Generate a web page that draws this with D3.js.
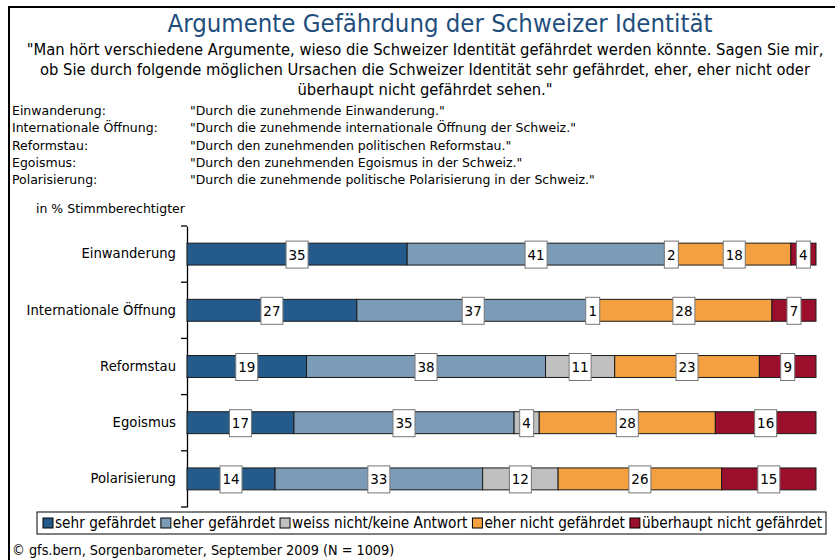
<!DOCTYPE html>
<html>
<head>
<meta charset="utf-8">
<script src="https://cdn.jsdelivr.net/npm/d3@7"></script>
<style>
  body { margin: 0; background: #fff; }
  svg text { fill: #000; }
</style>
</head>
<body>
<div id="chart"></div>
<script>
'use strict'

// data
const categories = ['Einwanderung', 'Internationale Öffnung', 'Reformstau', 'Egoismus', 'Polarisierung']
const seriesNames = ['sehr gefährdet', 'eher gefährdet', 'weiss nicht/keine Antwort', 'eher nicht gefährdet', 'überhaupt nicht gefährdet']
const sehr = [35, 27, 19, 17, 14]
const eher = [41, 37, 38, 35, 33]
const weissNicht = [2, 1, 11, 4, 12]
const eherNicht = [18, 28, 23, 28, 26]
const ueberhauptNicht = [4, 7, 9, 16, 15]
const colors = ['#245b8b', '#7b9bb6', '#c0c0c0', '#f4a040', '#9c0f2c']

const definitions = [
  ['Einwanderung:', '"Durch die zunehmende Einwanderung."'],
  ['Internationale Öffnung:', '"Durch die zunehmende internationale Öffnung der Schweiz."'],
  ['Reformstau:', '"Durch den zunehmenden politischen Reformstau."'],
  ['Egoismus:', '"Durch den zunehmenden Egoismus in der Schweiz."'],
  ['Polarisierung:', '"Durch die zunehmende politische Polarisierung in der Schweiz."']
]
const subtitleLines = [
  '"Man hört verschiedene Argumente, wieso die Schweizer Identität gefährdet werden könnte. Sagen Sie mir,',
  'ob Sie durch folgende möglichen Ursachen die Schweizer Identität sehr gefährdet, eher, eher nicht oder',
  'überhaupt nicht gefährdet sehen."'
]

const rows = categories.map((c, i) => ({
  cat: c,
  [seriesNames[0]]: sehr[i],
  [seriesNames[1]]: eher[i],
  [seriesNames[2]]: weissNicht[i],
  [seriesNames[3]]: eherNicht[i],
  [seriesNames[4]]: ueberhauptNicht[i]
}))

////////////////////////////////////
//////////// svg setup /////////////
////////////////////////////////////

const svgWidth = 835
const svgHeight = 560
const narrow = '"Liberation Sans Narrow", "Arial Narrow", "DejaVu Sans Condensed", sans-serif'
const tahoma = 'Tahoma, "DejaVu Sans", Verdana, sans-serif'

const svg = d3.select('#chart').append('svg')
  .attr('width', svgWidth)
  .attr('height', svgHeight)
  .style('display', 'block')

// frame lines (top and left)
svg.append('path')
  .attr('d', 'M9,560 V7 H835')
  .attr('fill', 'none')
  .attr('stroke', '#000')
  .attr('stroke-width', 2)

// title
svg.append('text')
  .attr('x', 440).attr('y', 32)
  .attr('text-anchor', 'middle')
  .style('font-family', narrow)
  .style('font-size', '25.5px')
  .style('fill', '#1f4e7c')
  .text('Argumente Gefährdung der Schweizer Identität')

svg.append('g').selectAll('text')
  .data(subtitleLines)
  .join('text')
  .attr('x', 425)
  .attr('y', (d, i) => 54.5 + i * 20)
  .attr('text-anchor', 'middle')
  .style('font-family', narrow)
  .style('font-size', '16.4px')
  .text(d => d)

const defs = svg.append('g').style('font-family', tahoma).style('font-size', '12.5px')
defs.selectAll('text.k')
  .data(definitions)
  .join('text')
  .attr('class', 'k')
  .attr('x', 12)
  .attr('y', (d, i) => 115 + i * 17.3)
  .text(d => d[0])
defs.selectAll('text.v')
  .data(definitions)
  .join('text')
  .attr('class', 'v')
  .attr('x', 190)
  .attr('y', (d, i) => 115 + i * 17.3)
  .text(d => d[1])

svg.append('text')
  .attr('x', 36).attr('y', 213)
  .style('font-family', tahoma)
  .style('font-size', '12.5px')
  .text('in % Stimmberechtigter')

////////////////////////////////////
//////////// scales ////////////////
////////////////////////////////////

const x = d3.scaleLinear().domain([0, 100]).range([187, 816])
const y = d3.scaleBand().domain(categories).range([226, 507]).paddingInner(0.61).paddingOuter(0.305)

const stack = d3.stack().keys(seriesNames)
const layers = stack(rows)

// axis
const axis = svg.append('g')
  .attr('transform', `translate(${x(0)},0)`)
  .call(d3.axisLeft(y).tickSize(0).tickPadding(11))
axis.select('.domain').attr('stroke', '#000').attr('stroke-width', 1.3)
axis.selectAll('.tick text')
  .style('font-family', tahoma)
  .style('font-size', '13.2px')
  .style('fill', '#000')

const gap = y.step() * y.paddingInner() / 2
const bounds = categories.map(c => y(c) - gap).concat([y(categories[categories.length - 1]) + y.bandwidth() + gap])
axis.selectAll('line.edge')
  .data(bounds)
  .join('line')
  .attr('class', 'edge')
  .attr('x1', -6).attr('x2', 0)
  .attr('y1', d => d).attr('y2', d => d)
  .attr('stroke', '#000')
  .attr('stroke-width', 1.3)

// bars
const layer = svg.append('g').selectAll('g')
  .data(layers)
  .join('g')
  .attr('fill', (d, i) => colors[i])

layer.selectAll('rect')
  .data(d => d)
  .join('rect')
  .attr('x', d => x(d[0]))
  .attr('y', d => y(d.data.cat))
  .attr('width', d => x(d[1]) - x(d[0]))
  .attr('height', y.bandwidth())
  .attr('stroke', '#1a1a1a')
  .attr('stroke-width', 1)

// value labels
const labels = svg.append('g')
  .style('font-family', tahoma)
  .style('font-size', '13.5px')

const labelData = layers.flatMap(l => l.map(d => ({ v: d[1] - d[0], mid: (d[0] + d[1]) / 2, cat: d.data.cat })))

const lab = labels.selectAll('g')
  .data(labelData)
  .join('g')
  .attr('transform', d => `translate(${x(d.mid)},${y(d.cat) + y.bandwidth() / 2})`)

lab.append('rect')
  .attr('x', d => d.v >= 10 ? -11 : -7)
  .attr('y', -13)
  .attr('width', d => d.v >= 10 ? 22 : 14)
  .attr('height', 27)
  .attr('fill', '#fff')
  .attr('stroke', '#777')
  .attr('stroke-width', 1)

lab.append('text')
  .attr('text-anchor', 'middle')
  .attr('y', 5.5)
  .text(d => d.v)

// legend
const legend = svg.append('g')
legend.append('rect')
  .attr('x', 37).attr('y', 512)
  .attr('width', 789).attr('height', 22)
  .attr('fill', '#fff')
  .attr('stroke', '#000')
  .attr('stroke-width', 1)

let lx = 43
seriesNames.forEach((name, i) => {
  legend.append('rect')
    .attr('x', lx).attr('y', 518)
    .attr('width', 10).attr('height', 10)
    .attr('fill', colors[i])
    .attr('stroke', '#000')
    .attr('stroke-width', 1)
  const t = legend.append('text')
    .attr('x', lx + 12).attr('y', 528)
    .style('font-family', narrow)
    .style('font-size', '15.2px')
    .text(name)
  lx += 12 + t.node().getComputedTextLength() + 5
})

// source
svg.append('text')
  .attr('x', 12).attr('y', 555)
  .style('font-family', narrow)
  .style('font-size', '14.3px')
  .text('© gfs.bern, Sorgenbarometer, September 2009 (N = 1009)')
</script>
</body>
</html>
